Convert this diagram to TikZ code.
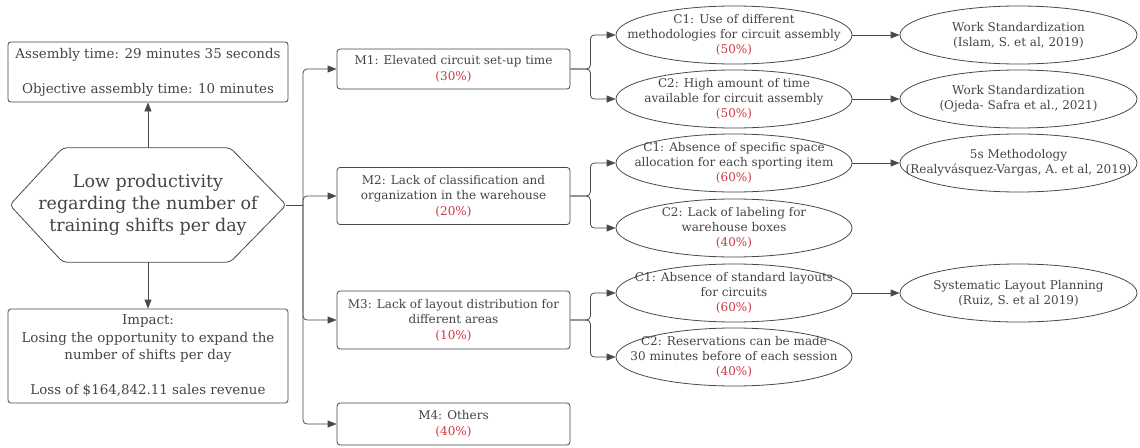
\documentclass[tikz,border=0pt]{standalone}
\usepackage{fontspec}
\setmainfont{DejaVu Serif}
\usetikzlibrary{arrows.meta,shapes.geometric}
\definecolor{lineGray}{RGB}{70,72,78}
\definecolor{textGray}{RGB}{68,68,68}
\definecolor{pctRed}{RGB}{205,55,65}
\newcommand{\pct}[1]{\textcolor{pctRed}{(#1\%)}}
\begin{document}
\begin{tikzpicture}[x=1pt, y=-1pt,
    leftStyle/.style={draw=lineGray, line width=0.8pt, rounded corners=3pt, align=center, text=textGray, inner sep=0pt, minimum width=280, font=\fontsize{13.4}{17.5}\selectfont},
    mStyle/.style={draw=lineGray, line width=0.8pt, rounded corners=3pt, align=center, text=textGray, inner sep=0pt, minimum width=233, font=\fontsize{12}{15.5}\selectfont},
    cStyle/.style={ellipse, draw=lineGray, line width=0.8pt, align=center, text=textGray, inner xsep=-60pt, inner ysep=-20pt, minimum width=236, minimum height=58, font=\fontsize{12}{15}\selectfont},
    arrStyle/.style={draw=lineGray, line width=0.8pt, rounded corners=4pt, -{Triangle[length=9pt, width=7pt]}},
    lineStyle/.style={draw=lineGray, line width=0.8pt, rounded corners=4pt}]
    \useasboundingbox (0,0) rectangle (1140,447);

    \node[leftStyle, minimum height=60](assembly) at (148,72) {Assembly time: 29 minutes 35 seconds\\[17.5pt]Objective assembly time: 10 minutes};
    \node[align=center, text=textGray, inner sep=0pt, minimum width=276, minimum height=114, font=\fontsize{17.5}{22}\selectfont](hex) at (148,205) {Low productivity\\regarding the number of\\training shifts per day};
    \node[leftStyle, minimum height=94](impact) at (148,356) {Impact:\\Losing the opportunity to expand the\\number of shifts per day\\[17.5pt]Loss of \$164,842.11 sales revenue};

    \node[mStyle, minimum height=40](m1) at (453.5,69) {M1: Elevated circuit set-up time\\\pct{30}};
    \node[mStyle, minimum height=57](m2) at (453.5,196) {M2: Lack of classification and\\organization in the warehouse\\\pct{20}};
    \node[mStyle, minimum height=58](m3) at (453.5,320) {M3: Lack of layout distribution for\\different areas\\\pct{10}};
    \node[mStyle, minimum height=42](m4) at (453.5,424) {M4: Others\\\pct{40}};

    \node[cStyle](c11) at (734,35) {C1: Use of different\\methodologies for circuit assembly\\\pct{50}};
    \node[cStyle](c12) at (734,99) {C2: High amount of time\\available for circuit assembly\\\pct{50}};
    \node[cStyle](c21) at (734,163) {C1: Absence of specific space\\allocation for each sporting item\\\pct{60}};
    \node[cStyle](c22) at (734,228) {C2: Lack of labeling for\\warehouse boxes\\\pct{40}};
    \node[cStyle](c31) at (734,293) {C1: Absence of standard layouts\\for circuits\\\pct{60}};
    \node[cStyle](c32) at (734,357) {C2: Reservations can be made\\30 minutes before of each session\\\pct{40}};

    \node[cStyle, minimum width=237](r11) at (1018.5,35) {Work Standardization\\(Islam, S. et al, 2019)};
    \node[cStyle, minimum width=237](r12) at (1018.5,99) {Work Standardization\\(Ojeda- Safra et al., 2021)};
    \node[cStyle, minimum width=237](r21) at (1018.5,163) {5s Methodology\\(Realyvásquez-Vargas, A. et al, 2019)};
    \node[cStyle, minimum width=237](r31) at (1018.5,293) {Systematic Layout Planning\\(Ruiz, S. et al 2019)};

    \draw[lineStyle] (hex.west) -- ([xshift=53pt]hex.north west) -- ([xshift=-56pt]hex.north east) -- (hex.east) -- ([xshift=-56pt]hex.south east) -- ([xshift=53pt]hex.south west) -- cycle;
    \draw[arrStyle] (hex.north) -- (assembly);
    \draw[arrStyle] (hex.south) -- (impact);

    \coordinate (trunk) at (303,205);
    \draw[lineStyle] (hex.east) -- (trunk);
    \draw[arrStyle] (trunk) |- (m1);
    \draw[arrStyle] (trunk) |- (m2);
    \draw[arrStyle] (trunk) |- (m3);
    \draw[arrStyle] (trunk) |- (m4);

    \draw[arrStyle] (m1.east) -- ++(20,0) |- (c11);
    \draw[arrStyle] (m1.east) -- ++(20,0) |- (c12);
    \draw[arrStyle] (m2.east) -- ++(20,0) |- (c21);
    \draw[arrStyle] (m2.east) -- ++(20,0) |- (c22);
    \draw[arrStyle] (m3.east) -- ++(20,0) |- (c31);
    \draw[arrStyle] (m3.east) -- ++(20,0) |- (c32);

    \draw[arrStyle] (c11) -- (r11);
    \draw[arrStyle] (c12) -- (r12);
    \draw[arrStyle] (c21) -- (r21);
    \draw[arrStyle] (c31) -- (r31);
\end{tikzpicture}
\end{document}
